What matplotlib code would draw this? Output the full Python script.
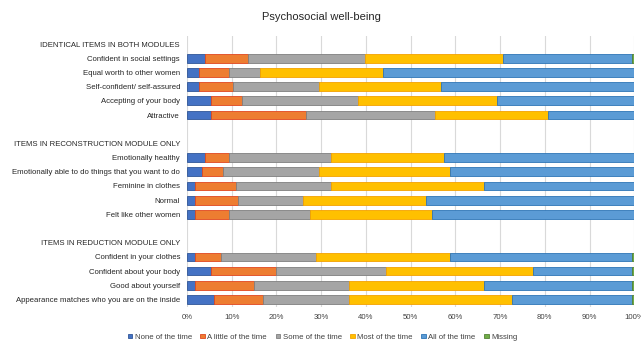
import numpy as np
import matplotlib.pyplot as plt
from matplotlib import font_manager

names = {f.name for f in font_manager.fontManager.ttflist}
if "Liberation Sans Narrow" in names:
    plt.rcParams["font.family"] = ["Liberation Sans Narrow", "DejaVu Sans"]
    fs = 6.6
    fs_title = 9.5
else:
    plt.rcParams["font.family"] = ["Liberation Sans", "DejaVu Sans"]
    fs = 5.6
    fs_title = 8

# rows top to bottom; header / blank rows carry no bars
labels = [
    "IDENTICAL ITEMS IN BOTH MODULES",
    "Confident in social settings",
    "Equal worth to other women",
    "Self-confident/ self-assured",
    "Accepting of your body",
    "Attractive",
    "",
    "ITEMS IN RECONSTRUCTION MODULE ONLY",
    "Emotionally healthy",
    "Emotionally able to do things that you want to do",
    "Feminine in clothes",
    "Normal",
    "Felt like other women",
    "",
    "ITEMS IN REDUCTION MODULE ONLY",
    "Confident in your clothes",
    "Confident about your body",
    "Good about yourself",
    "Appearance matches who you are on the inside",
]

none_ = [0, 4.0, 2.7, 2.7, 5.4, 5.4, 0, 0, 4.0, 3.3, 1.9, 1.9, 1.9, 0, 0, 1.9, 5.4, 1.9, 6.1]
little = [0, 9.6, 6.8, 7.6, 6.8, 21.3, 0, 0, 5.5, 4.7, 9.0, 9.6, 7.6, 0, 0, 5.6, 14.4, 13.0, 11.0]
some = [0, 26.2, 6.9, 19.2, 26.0, 28.7, 0, 0, 22.7, 21.5, 21.3, 14.4, 17.9, 0, 0, 21.3, 24.8, 21.3, 19.1]
most = [0, 30.8, 27.4, 27.4, 31.0, 25.4, 0, 0, 25.3, 29.4, 34.3, 27.5, 27.4, 0, 0, 30.1, 32.7, 30.3, 36.4]
all_ = [0, 29.0, 56.2, 43.1, 30.8, 19.2, 0, 0, 42.5, 41.1, 33.5, 46.6, 45.2, 0, 0, 40.5, 22.1, 32.9, 26.8]
missing = [0, 0.4, 0, 0, 0, 0, 0, 0, 0, 0, 0, 0, 0, 0, 0, 0.6, 0.6, 0.6, 0.6]

series = [
    ("None of the time", none_, "#4472C4", "#2F5597"),
    ("A little of the time", little, "#ED7D31", "#E0461F"),
    ("Some of the time", some, "#A5A5A5", "#7F7F7F"),
    ("Most of the time", most, "#FFC000", "#F4A100"),
    ("All of the time", all_, "#5B9BD5", "#2E75B6"),
    ("Missing", missing, "#70AD47", "#548235"),
]

fig = plt.figure(figsize=(6.41, 3.46), dpi=100)
ax = fig.add_axes([0.2917, 0.112, 0.6978, 0.785])

y = np.arange(len(labels))
left = np.zeros(len(labels))
handles = []
for name, vals, col, edge in series:
    vals = np.array(vals) / 100.0
    m = vals > 0
    b = ax.barh(y[m], vals[m], left=left[m], height=0.62, color=col,
                edgecolor=edge, linewidth=0.6, label=name, zorder=3)
    handles.append(b)
    left += vals

ax.set_ylim(len(labels) - 0.45, -0.6)
ax.set_xlim(0, 1)
ax.set_yticks(y)
ax.set_yticklabels(labels, fontsize=fs, color="#262626")
ax.set_xticks(np.arange(0, 1.01, 0.1))
ax.set_xticklabels([f"{int(round(v * 100))}%" for v in np.arange(0, 1.01, 0.1)],
                   fontsize=fs, color="#404040")
ax.tick_params(length=0, pad=5)
ax.grid(axis="x", color="#D9D9D9", linewidth=0.8, zorder=0)
for s in ax.spines.values():
    s.set_visible(False)

fig.suptitle("Psychosocial well-being", fontsize=fs_title, color="#262626",
             y=0.965, x=0.502)

leg = fig.legend(handles=handles, loc="lower center", ncol=6, fontsize=fs,
                 frameon=False, bbox_to_anchor=(0.503, -0.005),
                 handlelength=0.6, handleheight=0.6, handletextpad=0.3,
                 columnspacing=1.1)
for t in leg.get_texts():
    t.set_color("#404040")

fig.savefig("out.png", dpi=100)
